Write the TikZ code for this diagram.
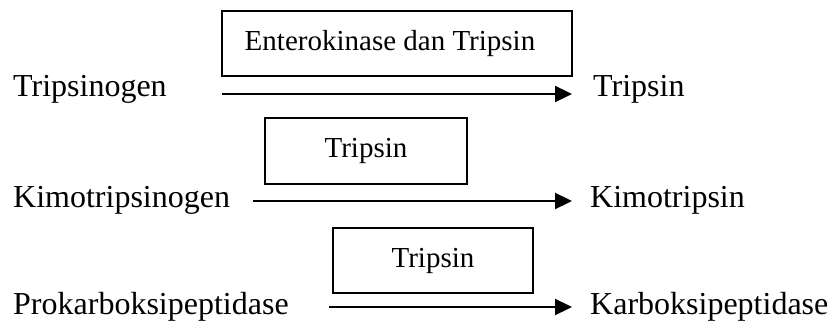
\documentclass[tikz,border=0pt]{standalone}
\usepackage{fontspec}
\setmainfont{Liberation Serif}
\usetikzlibrary{arrows.meta}

\tikzset{
  label/.style={anchor=base west, inner sep=0pt, font=\fontsize{32}{38}\selectfont},
  enzyme/.style={draw, line width=1.5pt, inner sep=0pt, font=\fontsize{29}{35}\selectfont},
  react/.style={line width=2.3pt, -{Triangle[length=17pt, width=16pt]}}
}

\begin{document}
\begin{tikzpicture}[x=1pt, y=-1pt]
  \useasboundingbox (0,0) rectangle (830,324);

  % substrates (left) and products (right)
  \node[label] (s1) at (13,96)  {Tripsinogen};
  \node[label] (p1) at (593,96) {Tripsin};
  \node[label] (s2) at (13,207) {Kimotripsinogen};
  \node[label] (p2) at (590,207) {Kimotripsin};
  \node[label] (s3) at (13,314) {Prokarboksipeptidase};
  \node[label] (p3) at (590,314) {Karboksipeptidase};

  % enzyme boxes above the reaction arrows
  \node[enzyme, minimum width=350pt, minimum height=65pt] (e1) at (397,43.5)
    {Enterokinase dan Tripsin\hspace*{14pt}};
  \node[enzyme, minimum width=202pt, minimum height=66pt] (e2) at (366,151) {Tripsin};
  \node[enzyme, minimum width=200pt, minimum height=65pt] (e3) at (433,260.5) {Tripsin};

  % arrow end points
  \coordinate (a1) at (222,94);  \coordinate (b1) at (572,94);
  \coordinate (a2) at (253,201); \coordinate (b2) at (572,201);
  \coordinate (a3) at (329,307); \coordinate (b3) at (572,307);

  \draw[react] (a1) -- (b1);
  \draw[react] (a2) -- (b2);
  \draw[react] (a3) -- (b3);
\end{tikzpicture}
\end{document}
